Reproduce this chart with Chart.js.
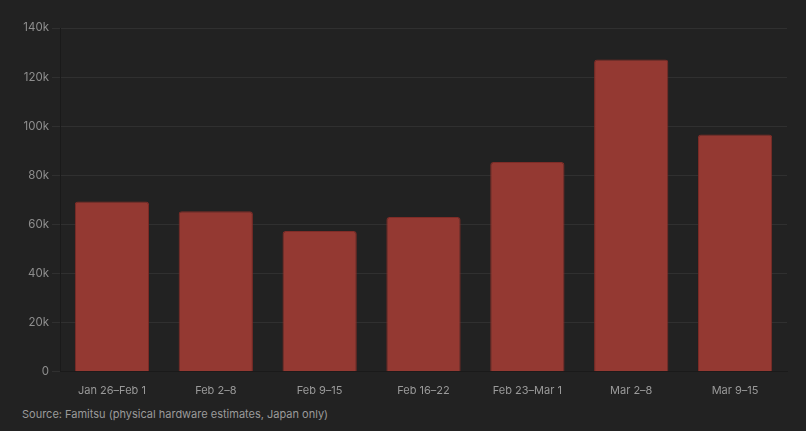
<!DOCTYPE html>
<html>
<head>
<meta charset="utf-8">
<script src="https://cdn.jsdelivr.net/npm/chart.js@4"></script>
<style>
  html, body { margin: 0; padding: 0; background: #222222; }
  #wrap { position: relative; width: 806px; height: 401px; }
  #source {
    position: absolute; left: 22px; top: 407px;
    font-family: Inter, "Noto Sans", sans-serif; font-size: 11px; color: #9a9a9a;
  }
</style>
</head>
<body>
<div id="wrap"><canvas id="chart" width="806" height="401"></canvas></div>
<div id="source">Source: Famitsu (physical hardware estimates, Japan only)</div>
<script>
// Weekly hardware sales (units)
const weeks = ['Jan 26–Feb 1', 'Feb 2–8', 'Feb 9–15', 'Feb 16–22', 'Feb 23–Mar 1', 'Mar 2–8', 'Mar 9–15'];
const units = [69300, 65400, 57300, 63000, 85400, 127200, 96600];
const yTicks = [0, 20000, 40000, 60000, 80000, 100000, 120000, 140000];

const FONT = 'Inter, "Noto Sans", sans-serif';

new Chart(document.getElementById('chart'), {
    type: 'bar',
    data: {
        labels: weeks,
        datasets: [{
            data: units,
            backgroundColor: '#943932',
            borderColor: '#7f2c27',
            borderWidth: 1,
            borderRadius: { topLeft: 3, topRight: 3 },
            borderSkipped: 'bottom',
            categoryPercentage: 1,
            barPercentage: 0.715
        }]
    },
    options: {
        responsive: false,
        animation: false,
        devicePixelRatio: 1,
        layout: { padding: { top: 28, right: 19, left: 0, bottom: 0 } },
        plugins: { legend: { display: false }, tooltip: { enabled: false } },
        scales: {
            x: {
                grid: { display: false },
                border: { display: true, color: '#1a1a1a' },
                ticks: { color: '#9a9a9a', font: { family: FONT, size: 11 }, padding: 4, maxRotation: 0, autoSkip: false }
            },
            y: {
                min: 0,
                max: 140000,
                afterFit: s => { s.width = 60; },
                afterBuildTicks: s => { s.ticks = yTicks.map(v => ({ value: v })); },
                grid: { color: '#303030', tickLength: 8, tickColor: '#303030' },
                border: { display: true, color: '#1a1a1a' },
                ticks: {
                    color: '#8e8e8e',
                    font: { family: FONT, size: 11.5 },
                    padding: 3,
                    callback: v => v === 0 ? '0' : (v / 1000) + 'k'
                }
            }
        }
    }
});
</script>
</body>
</html>
